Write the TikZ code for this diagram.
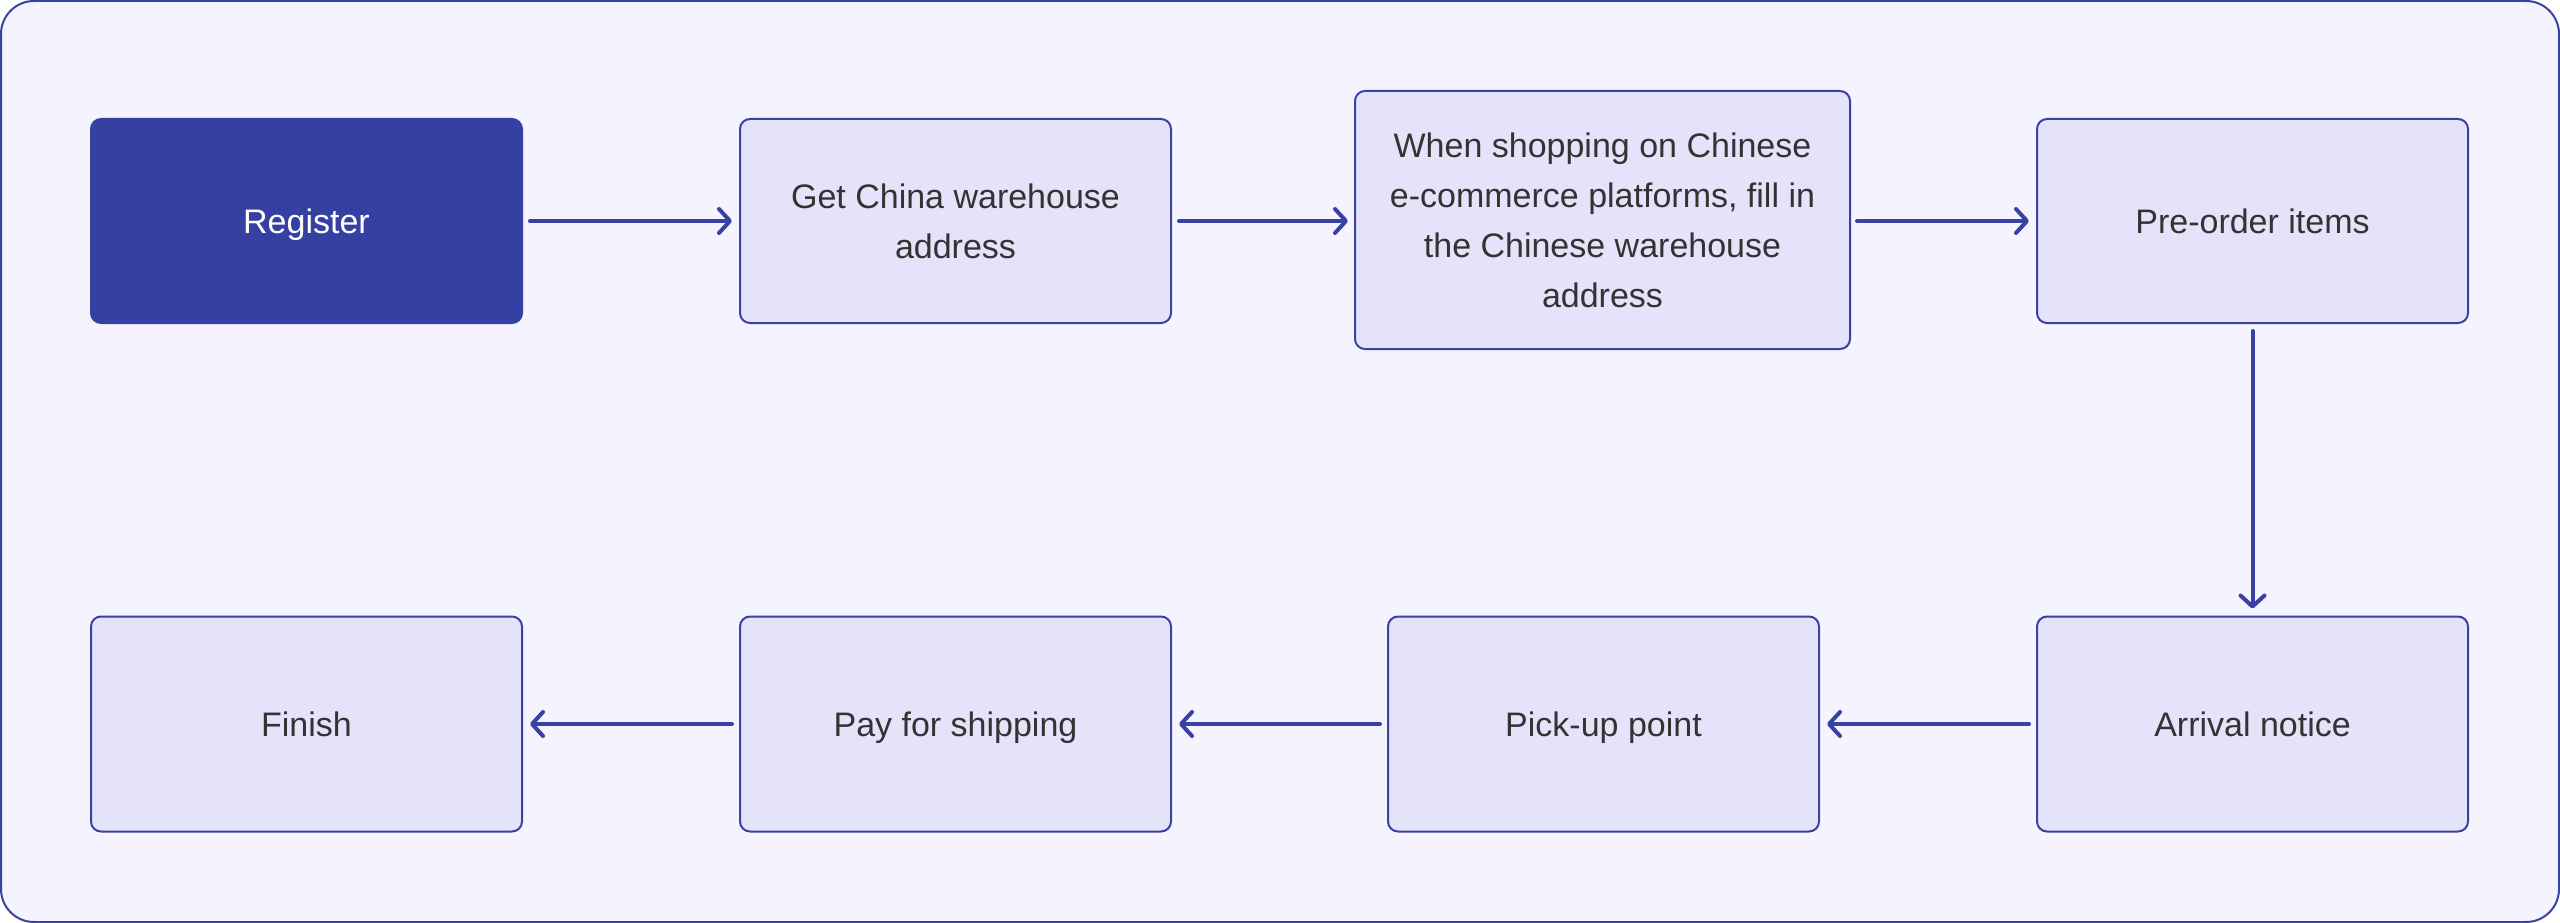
\documentclass[tikz,border=0pt]{standalone}
\usepackage{fontspec}
\setmainfont{Liberation Sans}
\usetikzlibrary{arrows.meta}
\definecolor{frameblue}{HTML}{3A41A4}
\definecolor{bgfill}{HTML}{F5F4FE}
\definecolor{boxfill}{HTML}{E4E3FA}
\definecolor{darkbox}{HTML}{3640A3}
\definecolor{txt}{HTML}{333333}
\begin{document}
\begin{tikzpicture}[x=1pt,y=-1pt,
  stepnode/.style={draw=frameblue, line width=2pt, fill=boxfill, rounded corners=10pt,
    minimum width=431pt, minimum height=204pt, align=center, text=txt,
    font=\fontsize{34}{50}\selectfont, inner sep=0pt},
  oneline/.style={text height=32pt, text depth=8pt},
  lowrow/.style={stepnode, oneline, minimum height=215pt},
  startnode/.style={stepnode, oneline, fill=darkbox, draw=darkbox, text=white},
  conn/.style={draw=frameblue, line width=4pt, line cap=round,
    -{Straight Barb[length=11pt,width=24pt,round]}}
]
\useasboundingbox (0,0) rectangle (2560,923);
\draw[draw=frameblue, fill=bgfill, line width=2pt, rounded corners=33pt] (1,1) rectangle (2559,922);

\node[startnode] (reg) at (306.5,221) {Register};
\node[stepnode] (addr) at (955.5,221) {Get China warehouse\\address};
\node[stepnode, minimum width=495pt, minimum height=258pt] (fillin) at (1602.5,220)
  {When shopping on Chinese\\e-commerce platforms, fill in\\the Chinese warehouse\\address};
\node[stepnode, oneline] (pre) at (2252.5,221) {Pre-order items};
\node[lowrow] (arr) at (2252.5,724) {Arrival notice};
\node[lowrow] (pick) at (1603.5,724) {Pick-up point};
\node[lowrow] (pay) at (955.5,724) {Pay for shipping};
\node[lowrow] (fin) at (306.5,724) {Finish};

\draw[conn] ([xshift=7pt]reg.east) -- ([xshift=-7pt]addr.west);
\draw[conn] ([xshift=7pt]addr.east) -- ([xshift=-6pt]fillin.west |- addr.east);
\draw[conn] ([xshift=6pt]fillin.east |- pre.west) -- ([xshift=-7pt]pre.west);
\draw[conn] ([yshift=-7pt]pre.south) -- ([yshift=7pt]arr.north);
\draw[conn] ([xshift=-7pt]arr.west) -- ([xshift=7pt]pick.east);
\draw[conn] ([xshift=-7pt]pick.west) -- ([xshift=7pt]pay.east);
\draw[conn] ([xshift=-7pt]pay.west) -- ([xshift=7pt]fin.east);
\end{tikzpicture}
\end{document}
